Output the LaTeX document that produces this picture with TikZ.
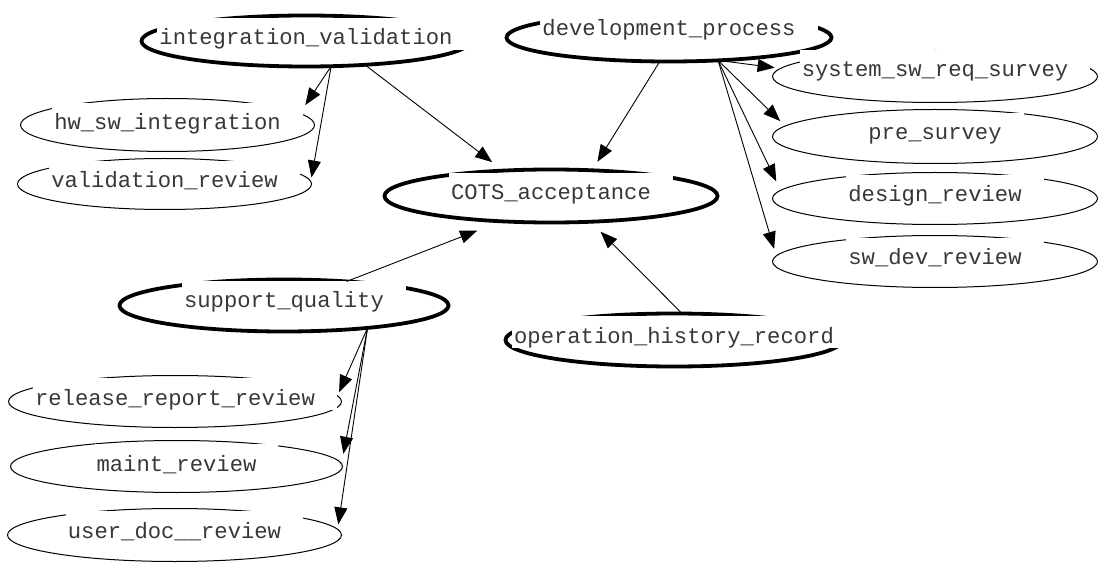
\documentclass[tikz,border=0pt]{standalone}
\usepackage{fontspec}
\usetikzlibrary{shapes.geometric,arrows.meta}
\newfontfamily\labelfont{Liberation Mono}[Scale=1]

\begin{document}
\begin{tikzpicture}[x=1bp,y=-1bp,
  shapebase/.style={ellipse, draw=black, inner sep=0pt, outer sep=0pt},
  major/.style={shapebase, line width=3.8bp},
  minor/.style={shapebase, line width=1bp},
  lbl/.style={fill=white, text=black!78, font=\labelfont\fontsize{22.2bp}{24bp}\selectfont,
    inner xsep=2bp, inner ysep=0pt, text height=27bp, text depth=5bp, anchor=base},
  link/.style={draw=black, line width=0.9bp, -{Triangle[length=17bp,width=13bp]}}]

\useasboundingbox (0,0) rectangle (1098,563);

% ellipses
\node[major, minimum width=329bp, minimum height=51bp] (IV)   at (306,41)    {};
\node[major, minimum width=325bp, minimum height=48bp] (DP)   at (669,37.5)  {};
\node[major, minimum width=333bp, minimum height=53bp] (COTS) at (551,196)   {};
\node[major, minimum width=329bp, minimum height=52bp] (SQ)   at (284,305.5) {};
\node[major, minimum width=337bp, minimum height=53bp] (OH)   at (674,340)   {};
\node[minor, minimum width=294bp, minimum height=53bp] (HW)   at (167.5,125) {};
\node[minor, minimum width=294bp, minimum height=51bp] (VR)   at (164.5,184) {};
\node[minor, minimum width=325bp, minimum height=52bp] (SYS)  at (935,76.5)  {};
\node[minor, minimum width=325bp, minimum height=54bp] (PRE)  at (935,136.5) {};
\node[minor, minimum width=325bp, minimum height=52bp] (DES)  at (935,198.5) {};
\node[minor, minimum width=325bp, minimum height=52bp] (SWD)  at (935,261.5) {};
\node[minor, minimum width=333bp, minimum height=52bp] (REL)  at (175,401.5) {};
\node[minor, minimum width=332bp, minimum height=52bp] (MNT)  at (176.5,466.5) {};
\node[minor, minimum width=334bp, minimum height=53bp] (USR)  at (174.5,535) {};

% labels on white boxes
\node[lbl] (IVt)   at (316,45)    {integration\_validation\hspace*{20bp}};
\node[lbl] (DPt)   at (679,36)    {development\_process\hspace*{20bp}};
\node[lbl] (COTSt) at (561,200)   {COTS\_acceptance\hspace*{20bp}};
\node[lbl] (SQt)   at (294,308)   {support\_quality\hspace*{20bp}};
\node[lbl] (OHt)   at (684,343)   {operation\_history\_record\hspace*{20bp}};
\node[lbl] (HWt)   at (177.5,130) {hw\_sw\_integration\hspace*{20bp}};
\node[lbl] (VRt)   at (174.5,188) {validation\_review\hspace*{20bp}};
\node[lbl] (SYSt)  at (945,77)    {system\_sw\_req\_survey\hspace*{20bp}};
\node[lbl] (PREt)  at (945,140)   {pre\_survey\hspace*{20bp}};
\node[lbl] (DESt)  at (945,202)   {design\_review\hspace*{20bp}};
\node[lbl] (SWDt)  at (945,265)   {sw\_dev\_review\hspace*{20bp}};
\node[lbl] (RELt)  at (185,405)   {release\_report\_review\hspace*{20bp}};
\node[lbl] (MNTt)  at (186.5,471) {maint\_review\hspace*{20bp}};
\node[lbl] (USRt)  at (184.5,538) {user\_doc\_\_review\hspace*{20bp}};

% edges
\draw[link, shorten >=14bp] (IV.-22)   -- (COTS.152);
\draw[link, shorten >=10bp] (DP.-111)  -- (COTS.32.7);
\draw[link, shorten >=26bp] (SQ.21)    -- (COTS.-153);
\draw[link, shorten >=14bp] (OH.73)    -- (COTS.-33);
\draw[link, shorten >=10bp] (IV.-45)   -- (HW.5);
\draw[link, shorten >=4bp]  (IV.-45)   -- (VR.1.6);
\draw[link, shorten >=6bp]  (DP.-25)   -- (SYS.177.6);
\draw[link, shorten >=7bp]  (DP.-25)   -- (PRE.176.8);
\draw[link, shorten >=10bp] (DP.-25)   -- (DES.177.8);
\draw[link, shorten >=7.5bp](DP.-25)   -- (SWD.178.5);
\draw[link, shorten >=4bp]  (SQ.-15.6) -- (REL.2);
\draw[link, shorten >=10bp] (SQ.-15.6) -- (MNT.1.5);
\draw[link, shorten >=5bp]  (SQ.-15.6) -- (USR.2.5);
\end{tikzpicture}
\end{document}
